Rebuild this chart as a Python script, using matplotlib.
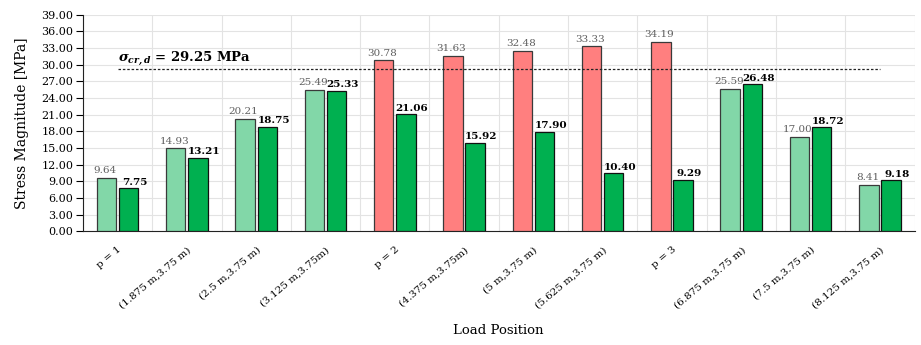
import numpy as np
import matplotlib.pyplot as plt

plt.rcParams['font.family'] = ['DejaVu Serif']
plt.rcParams['mathtext.fontset'] = 'dejavuserif'

positions = ['p = 1', '(1.875 m,3.75 m)', '(2.5 m,3.75 m)', '(3.125 m,3.75m)',
             'p = 2', '(4.375 m,3.75m)', '(5 m,3.75 m)', '(5.625 m,3.75 m)',
             'p = 3', '(6.875 m,3.75 m)', '(7.5 m,3.75 m)', '(8.125 m,3.75 m)']
stress_a = [9.64, 14.93, 20.21, 25.49, 30.78, 31.63, 32.48, 33.33, 34.19, 25.59, 17.00, 8.41]
stress_b = [7.75, 13.21, 18.75, 25.33, 21.06, 15.92, 17.90, 10.40, 9.29, 26.48, 18.72, 9.18]
sigma_cr = 29.25

fig = plt.figure(figsize=(9.21, 3.45), dpi=100)
ax = fig.add_axes([0.090, 0.330, 0.903, 0.627])

x = np.arange(len(positions))
w = 0.28
off = 0.16

# first bar red when above the critical stress
cols_a = ['#ff7f7f' if v > sigma_cr else '#82d7a8' for v in stress_a]
ax.bar(x - off, stress_a, w, color=cols_a, edgecolor='#3a3a3a', linewidth=0.9, zorder=3)
ax.bar(x + off, stress_b, w, color='#00b050', edgecolor='#111111', linewidth=0.9, zorder=3)

for xi, v in zip(x, stress_a):
    ax.text(xi - off - 0.02, v + 0.5, f'{v:.2f}', ha='center', va='bottom', fontsize=7.5, color='#5f5f5f')
for xi, v in zip(x, stress_b):
    ax.text(xi + off + 0.09, v + 0.3, f'{v:.2f}', ha='center', va='bottom', fontsize=7.5,
            fontweight='bold', color='black')

# critical stress line
ax.plot([x[0], x[-1]], [sigma_cr, sigma_cr], linestyle=(0, (2, 1.5)), color='#222222', linewidth=0.9, zorder=4)
ax.text(x[0], sigma_cr + 0.25, r'$\mathbfit{\sigma_{cr,d}}$' + ' = 29.25 MPa', fontsize=9.5,
        fontweight='bold', ha='left', va='bottom')

ax.set_xlim(-0.5, len(positions) - 0.5)
ax.set_ylim(0, 39)
ax.set_yticks(np.arange(0, 39.1, 3))
ax.set_yticklabels([f'{v:.2f}' for v in np.arange(0, 39.1, 3)])
ax.set_xticks(x)
ax.set_xticklabels(positions, rotation=40, ha='right', rotation_mode='anchor')
ax.set_xticks(np.arange(-0.5, len(positions), 0.5), minor=True)
ax.tick_params(axis='x', which='both', length=0, pad=10, labelsize=7.5)
ax.tick_params(axis='y', length=5, labelsize=8, pad=2)

ax.grid(axis='y', which='major', color='#e3e3e3', linewidth=0.8, zorder=0)
ax.grid(axis='x', which='minor', color='#e3e3e3', linewidth=0.8, zorder=0)
ax.set_axisbelow(True)

for s in ['top', 'right']:
    ax.spines[s].set_visible(False)
ax.spines['left'].set_color('#222222')
ax.spines['bottom'].set_color('#222222')

ax.set_ylabel('Stress Magnitude [MPa]', fontsize=10, labelpad=9)
ax.set_xlabel('Load Position', fontsize=9.5, labelpad=10)

fig.savefig('out.png', dpi=100)
